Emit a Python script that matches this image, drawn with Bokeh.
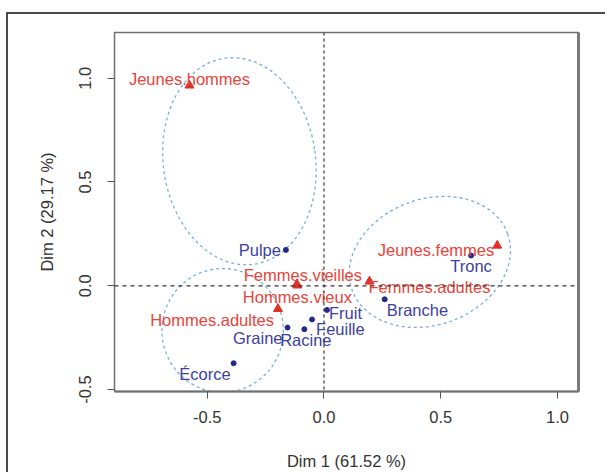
from bokeh.plotting import figure
from bokeh.models import ColumnDataSource, Span, LinearAxis, FixedTicker, PrintfTickFormatter, Range1d
from bokeh.layouts import column
from bokeh.core.properties import value
from bokeh.embed import file_html
from bokeh.resources import INLINE

# Row categories (consumer groups) on the first two CA dimensions
row_names = ["Jeunes.hommes", "Femmes.vieilles", "Hommes.vieux", "Hommes.adultes",
             "Jeunes.femmes", "Femmes.adultes"]
row_dim1 = [-0.576, -0.116, -0.114, -0.197, 0.742, 0.195]
row_dim2 = [0.965, 0.008, 0.002, -0.111, 0.194, 0.021]

# Column categories (plant parts)
col_names = ["Pulpe", "Tronc", "Branche", "Fruit", "Feuille", "Graine", "Racine", "Écorce"]
col_dim1 = [-0.163, 0.630, 0.260, 0.013, -0.051, -0.156, -0.084, -0.387]
col_dim2 = [0.173, 0.146, -0.065, -0.116, -0.162, -0.201, -0.209, -0.373]

# Confidence ellipses around the three groups
ell_x = [-0.362, 0.4535, -0.434]
ell_y = [0.600, 0.115, -0.215]
ell_w = [0.652, 0.708, 0.520]
ell_h = [1.002, 0.606, 0.597]
ell_angle = [0.14, 0.349, 0.0]

x_ticks = [-0.5, 0.0, 0.5, 1.0]
y_ticks = [-0.5, 0.0, 0.5, 1.0]
x_title = "Dim 1 (61.52 %)"
y_title = "Dim 2 (29.17 %)"

# Label placement: (align, dx px, dy px) relative to each point
label_place = {
    "Jeunes.hommes": ("center", 0, -6),
    "Femmes.vieilles": ("center", 6, -9),
    "Hommes.vieux": ("center", 0, 12),
    "Hommes.adultes": ("right", -4, 11),
    "Jeunes.femmes": ("right", -3, 4),
    "Femmes.adultes": ("left", -1, 6),
    "Pulpe": ("right", -5, 0),
    "Tronc": ("center", 0, 11),
    "Branche": ("left", 2, 11),
    "Fruit": ("left", 2, 3),
    "Feuille": ("left", 4, 10),
    "Graine": ("right", -5, 10),
    "Racine": ("center", 1.5, 11),
    "Écorce": ("right", -3, 11),
}

FONT = "Liberation Sans"
SIZE = "16.5px"
RED = "#e8443a"
BLUE = "#3d3f9e"
DOT = "#232a86"
GREY = "#333333"


def label_source(names, xs, ys):
    return ColumnDataSource(dict(
        x=xs, y=ys, text=names,
        align=[label_place[n][0] for n in names],
        dx=[label_place[n][1] for n in names],
        dy=[label_place[n][2] for n in names],
    ))


p = figure(width=597, height=458, output_backend="svg", toolbar_location=None,
           x_range=Range1d(-0.897, 1.09), y_range=Range1d(-0.509, 1.22),
           min_border_left=106, min_border_right=27, min_border_top=18, min_border_bottom=81)
p.background_fill_color = "white"
p.border_fill_color = "white"
p.grid.visible = False
p.outline_line_color = "#6f6f6f"
p.outline_line_width = 1.5

for ax, ticks, title in ((p.xaxis[0], x_ticks, x_title), (p.yaxis[0], y_ticks, y_title)):
    ax.ticker = FixedTicker(ticks=ticks)
    ax.formatter = PrintfTickFormatter(format="%.1f")
    ax.axis_label = title
    ax.axis_label_text_font = FONT
    ax.axis_label_text_font_style = "normal"
    ax.axis_label_text_font_size = SIZE
    ax.axis_label_text_color = GREY
    ax.major_label_text_font = FONT
    ax.major_label_text_font_size = SIZE
    ax.major_label_text_color = GREY
    ax.major_tick_out = 7
    ax.major_tick_in = 0
    ax.minor_tick_line_color = None
    ax.major_tick_line_color = "#555555"
    ax.axis_line_color = "#6f6f6f"

p.xaxis.axis_line_width = 2
p.xaxis.major_label_standoff = 12
p.xaxis.axis_label_standoff = 26
p.yaxis.major_label_orientation = "vertical"
p.yaxis.major_label_standoff = 16
p.yaxis.axis_label_standoff = 21

right = LinearAxis(ticker=FixedTicker(ticks=[]), axis_line_width=3, axis_line_color="#7a7a7a",
                   major_label_text_font_size="0px", major_tick_line_color=None,
                   minor_tick_line_color=None)
p.add_layout(right, "right")

# Reference lines through the origin
p.add_layout(Span(location=0, dimension="width", line_color="#333333",
                  line_dash="4 4", line_width=1.2))
p.add_layout(Span(location=0, dimension="height", line_color="#333333",
                  line_dash="3 3", line_width=1.2))

ell_src = ColumnDataSource(dict(x=ell_x, y=ell_y, w=ell_w, h=ell_h, a=ell_angle))
p.ellipse(x="x", y="y", width="w", height="h", angle="a", source=ell_src,
          fill_color=None, line_color="#78aee0", line_dash="3 3", line_width=1.3)

row_src = label_source(row_names, row_dim1, row_dim2)
col_src = label_source(col_names, col_dim1, col_dim2)

p.scatter(x="x", y="y", source=row_src, marker="triangle", size=9,
          fill_color="#e0302a", line_color="#e0302a")
p.scatter(x="x", y="y", source=col_src, marker="circle", size=5,
          fill_color=DOT, line_color=DOT)

for src, color in ((row_src, RED), (col_src, BLUE)):
    p.text(x="x", y="y", text="text", source=src, x_offset="dx", y_offset="dy",
           text_align="align", text_baseline="middle", text_color=color,
           text_font=value(FONT), text_font_size=SIZE)

page = column(p, margin=(12, 0, 0, 6),
              styles={"border-left": "2px solid #4a4a4a", "border-top": "2px solid #4a4a4a"})

open("out.html", "w").write(file_html(page, INLINE))
